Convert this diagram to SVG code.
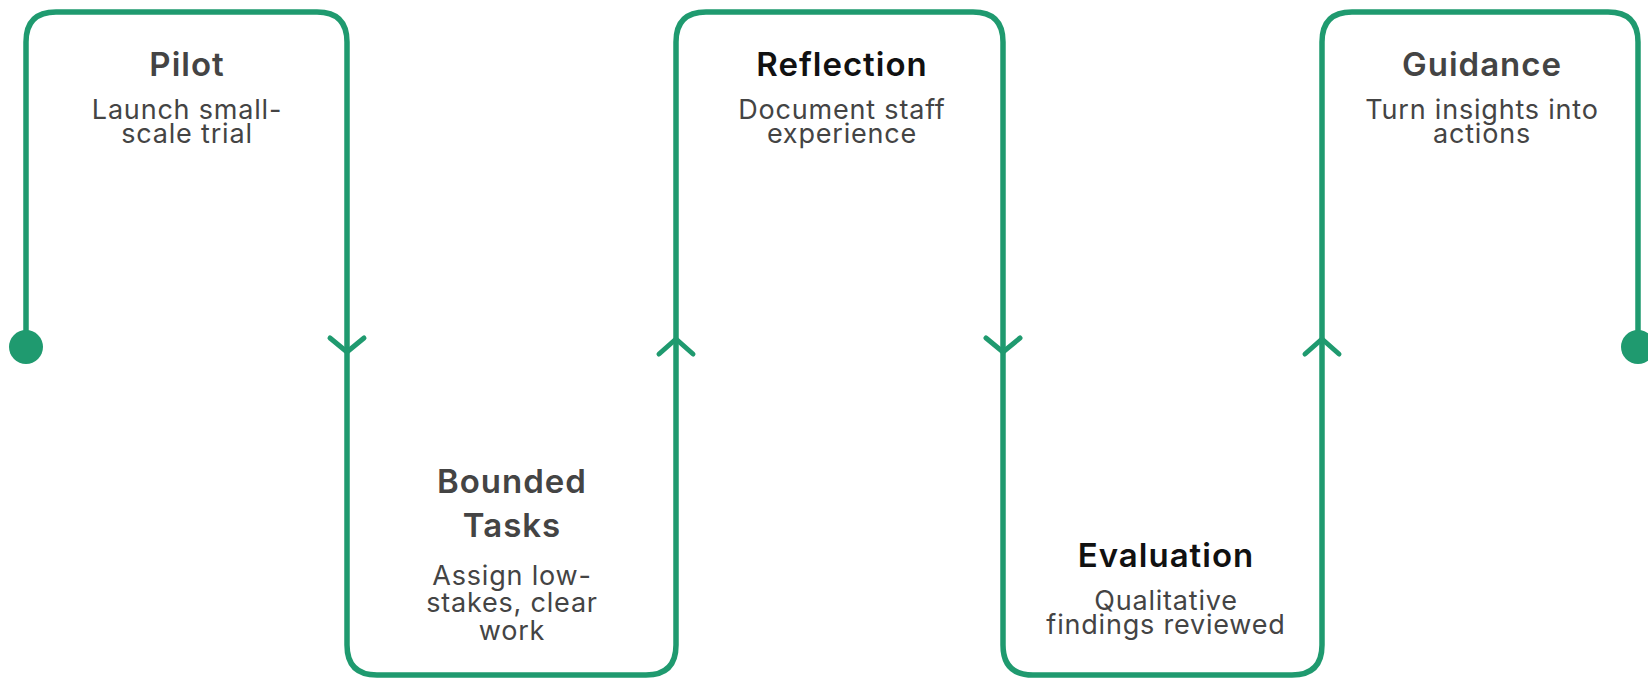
<svg xmlns="http://www.w3.org/2000/svg" width="1648" height="679" viewBox="0 0 1648 679">
<style>
.flow{fill:none;stroke:#1f9a6f;stroke-width:5.5;stroke-linejoin:round;stroke-linecap:round}
.chev{fill:none;stroke:#1f9a6f;stroke-width:5;stroke-linecap:round;stroke-linejoin:miter}
.dot{fill:#1f9a6f}
.t{font-family:Inter,"Liberation Sans",sans-serif;font-size:33px;font-weight:600;letter-spacing:1px;text-anchor:middle;fill:#444}
.t.k{fill:#111}
.s{font-family:Inter,"Liberation Sans",sans-serif;font-size:27px;font-weight:400;letter-spacing:0.8px;text-anchor:middle;fill:#444}
</style>
<rect width="1648" height="679" fill="#fff"/>
<g id="connectors">
<path class="flow" d="M26,347 V42 Q26,12 56,12 H317 Q347,12 347,42 V645 Q347,675 377,675 H646 Q676,675 676,645 V42 Q676,12 706,12 H973 Q1003,12 1003,42 V645 Q1003,675 1033,675 H1292 Q1322,675 1322,645 V42 Q1322,12 1352,12 H1608 Q1638,12 1638,42 V347"/>
<path class="chev" d="M330,338 L347,352 L364,338"/>
<path class="chev" d="M659,354 L676,339 L693,354"/>
<path class="chev" d="M986,338 L1003,352 L1020,338"/>
<path class="chev" d="M1305,354 L1322,339 L1339,354"/>
<circle class="dot" cx="26" cy="347" r="17"/>
<circle class="dot" cx="1638" cy="347" r="17"/>
</g>
<g id="pilot">
<text class="t" x="187" y="76">Pilot</text>
<text class="s" x="187" y="119">Launch small-</text>
<text class="s" x="187" y="143">scale trial</text>
</g>
<g id="bounded-tasks">
<text class="t" x="512" y="493">Bounded</text>
<text class="t" x="512" y="537">Tasks</text>
<text class="s" x="512" y="585">Assign low-</text>
<text class="s" x="512" y="612">stakes, clear</text>
<text class="s" x="512" y="640">work</text>
</g>
<g id="reflection">
<text class="t k" x="842" y="76">Reflection</text>
<text class="s" x="842" y="119">Document staff</text>
<text class="s" x="842" y="143">experience</text>
</g>
<g id="evaluation">
<text class="t k" x="1166" y="567">Evaluation</text>
<text class="s" x="1166" y="610">Qualitative</text>
<text class="s" x="1166" y="634">findings reviewed</text>
</g>
<g id="guidance">
<text class="t" x="1482" y="76">Guidance</text>
<text class="s" x="1482" y="119">Turn insights into</text>
<text class="s" x="1482" y="143">actions</text>
</g>
</svg>
